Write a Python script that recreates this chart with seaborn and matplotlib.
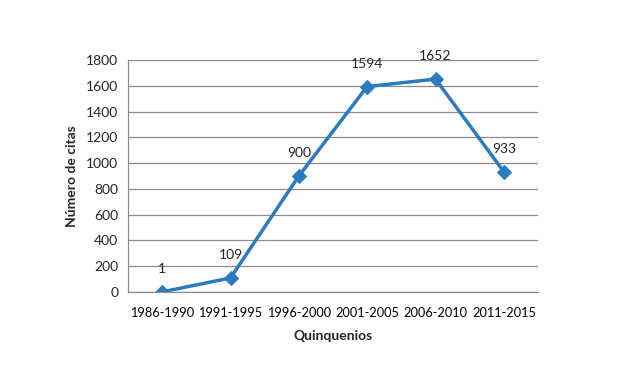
import matplotlib
matplotlib.use("Agg")
import matplotlib.pyplot as plt
import seaborn as sns
import pandas as pd
import numpy as np

categories = ["1986-1990", "1991-1995", "1996-2000", "2001-2005", "2006-2010", "2011-2015"]
values = [1, 109, 900, 1594, 1652, 933]
yticks = [0, 200, 400, 600, 800, 1000, 1200, 1400, 1600, 1800]

sns.set_style("white")
plt.rcParams['font.family'] = ['Lato', 'DejaVu Sans']

df = pd.DataFrame({"Quinquenio": categories, "Citas": values})
color = "#2B7BC0"

fig = plt.figure(figsize=(6.44, 3.88), dpi=100)
ax = fig.add_axes([128/644, 1-292/388, (538-128)/644, (292-60)/388])

sns.lineplot(data=df, x="Quinquenio", y="Citas", ax=ax, color=color, linewidth=2.5,
             marker="D", markersize=7.5, markeredgecolor=color, markerfacecolor=color, sort=False)

ax.set_ylim(0, 1800)
ax.set_xlim(-0.5, len(categories) - 0.5)
ax.set_yticks(yticks)
ax.yaxis.grid(True, color="#8C8C8C", linewidth=0.9)
ax.set_axisbelow(True)
for s in ["top", "right"]:
    ax.spines[s].set_visible(False)
ax.spines["left"].set_color("#8C8C8C")
ax.spines["bottom"].set_color("#8C8C8C")
ax.spines["left"].set_linewidth(0.9)
ax.spines["bottom"].set_linewidth(0.9)

ax.set_xticks(range(len(categories)))
ax.set_xticklabels(categories)
ax.set_xticks(np.arange(-0.5, len(categories), 1.0), minor=True)
ax.tick_params(axis="x", which="major", length=0, labelsize=9.2, pad=11, colors="#000000")
ax.tick_params(axis="x", which="minor", length=5, color="#8C8C8C", width=0.9)
ax.tick_params(axis="y", which="major", length=4, color="#8C8C8C", width=0.9, labelsize=10, pad=3)

for i, v in enumerate(values):
    ax.annotate(str(v), (i, v), textcoords="offset points", xytext=(0, 12),
                ha="center", va="bottom", fontsize=10)

ax.set_xlabel("Quinquenios", fontsize=10, fontweight="bold", labelpad=8)
ax.set_ylabel("Número de citas", fontsize=10, fontweight="bold", labelpad=6)

fig.savefig("out.png", dpi=100)
